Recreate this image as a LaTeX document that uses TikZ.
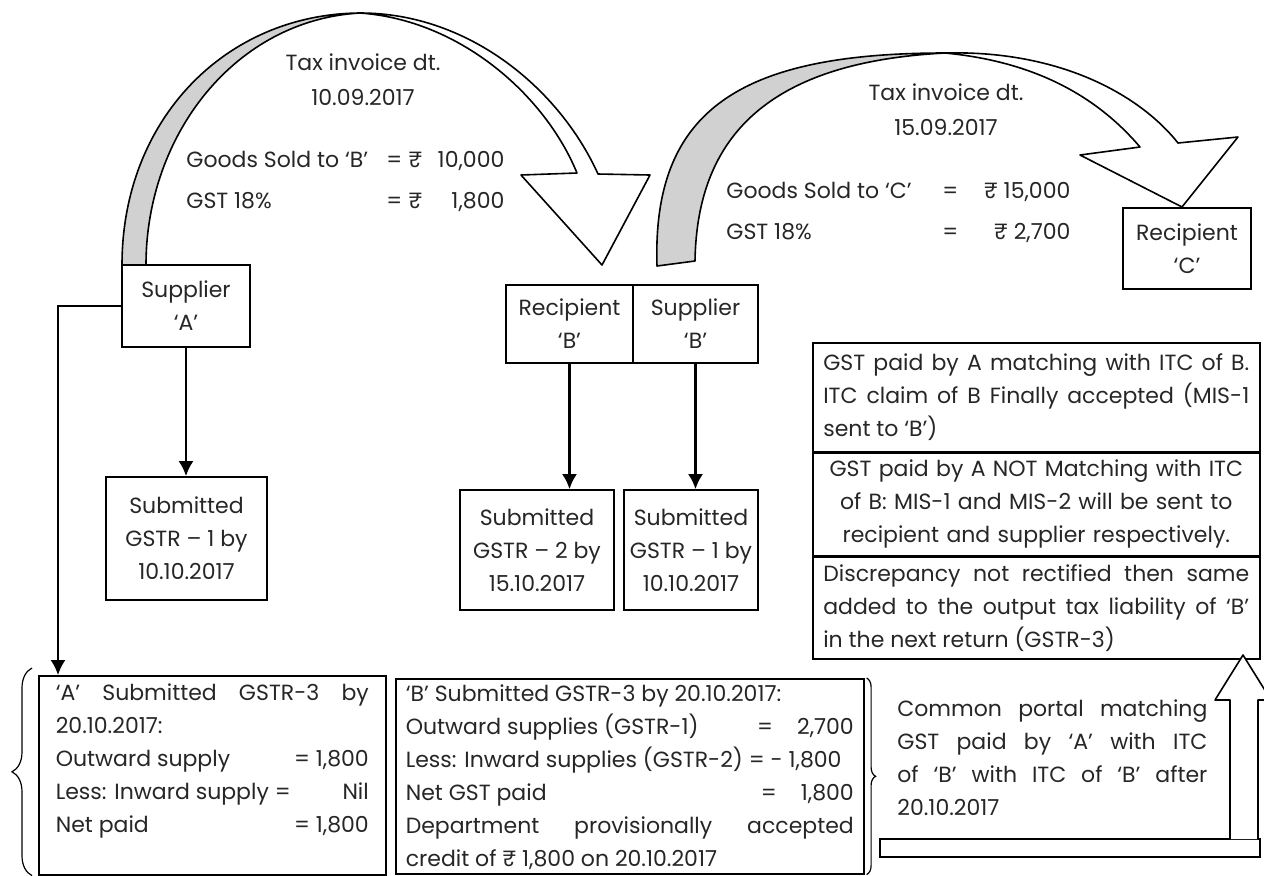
\documentclass[tikz,border=0pt]{standalone}
\usepackage{fontspec}
\setmainfont{Poppins}
\usetikzlibrary{arrows.meta,decorations.pathreplacing}

\tikzset{
  boite/.style={draw,line width=0.8pt,inner sep=0pt,align=center},
  texte/.style={inner sep=0pt,align=center},
  fleche/.style={->,line width=1.3pt},
  ruban/.style={draw=black,line width=0.8pt,line join=round},
}

\begin{document}
\begin{tikzpicture}[>={Latex[length=7.5pt,width=7.5pt]},x=0.5pt,y=-0.5pt,
  font=\fontsize{11}{16.5}\selectfont,text=black!85]

\useasboundingbox (0,0) rectangle (1264,875);

\fill[ruban,fill=black!18]
(122,265) .. controls (122,120) and (225,14) .. (360,13)
.. controls (235,20) and (146,135) .. (146,265) -- cycle;

\fill[ruban,fill=white]
(360,13) .. controls (470,13) and (560,90) .. (598,174)
-- (650,175) -- (602,265) -- (521,175) -- (577,173)
.. controls (545,95) and (460,20) .. (360,13) -- cycle;

\fill[ruban,fill=black!18]
(657,266) .. controls (652,110) and (740,53) .. (945,53)
.. controls (770,62) and (697,135) .. (695,261) -- cycle;

\fill[ruban,fill=white]
(945,53) .. controls (1060,50) and (1140,95) .. (1178,143)
-- (1238,137) -- (1182,207) -- (1080,155) -- (1140,147)
.. controls (1100,100) and (1040,62) .. (945,53) -- cycle;

\node[texte]
(factAB)
at (363,80)
{Tax invoice dt.\\[1pt]10.09.2017};

\node[texte,anchor=west,align=left]
(montantAB)
at (186,181.5)
{\makebox[100pt][l]{Goods Sold to ‘B’}\makebox[11pt][l]{=}\makebox[12pt][l]{₹}\makebox[36pt][r]{10,000}\\[4pt]
\makebox[100pt][l]{GST 18\%}\makebox[11pt][l]{=}\makebox[12pt][l]{₹}\makebox[36pt][r]{1,800}};

\node[texte]
(factBC)
at (946,110)
{Tax invoice dt.\\[1pt]15.09.2017};

\node[texte,anchor=west,align=left]
(montantBC)
at (726,212)
{\makebox[108pt][l]{Goods Sold to ‘C’}\makebox[13.5pt][l]{=}\makebox[50.5pt][r]{₹ 15,000}\\[4pt]
\makebox[108pt][l]{GST 18\%}\makebox[13.5pt][l]{=}\makebox[50.5pt][r]{₹ 2,700}};

\node[boite,minimum width=64pt,minimum height=41pt]
(supA)
at (186,306)
{Supplier\\‘A’};

\node[boite,minimum width=80.5pt,minimum height=61.5pt]
(gstrA)
at (186.5,538.5)
{Submitted\\GSTR – 1 by\\10.10.2017};

\node[boite,minimum width=63.5pt,minimum height=39pt]
(recB)
at (569.5,324)
{Recipient\\‘B’};

\node[boite,minimum width=62.5pt,minimum height=39pt]
(supB)
at (695.5,324)
{Supplier\\‘B’};

\node[boite,minimum width=77pt,minimum height=60pt]
(gstrdeuxB)
at (537,550)
{Submitted\\GSTR – 2 by\\15.10.2017};

\node[boite,minimum width=67pt,minimum height=60pt]
(gstrunB)
at (691,550)
{Submitted\\GSTR – 1 by\\10.10.2017};

\node[boite,minimum width=64pt,minimum height=40.5pt]
(recC)
at (1187,248.5)
{Recipient\\‘C’};

\node[boite,anchor=north west,inner xsep=8.5pt,inner ysep=4pt]
(gstrtroisA)
at (38,675)
{\parbox[t][91.5pt][t]{156.5pt}{‘A’ Submitted GSTR-3 by\linebreak
20.10.2017:\newline
Outward supply\hfill= 1,800\newline
Less: Inward supply =\hfill Nil\newline
Net paid\hfill= 1,800}};

\node[boite,anchor=north west,inner xsep=5pt,inner ysep=3pt]
(gstrtroisB)
at (395,678)
{\parbox[t][91.5pt][t]{224pt}{‘B’ Submitted GSTR-3 by 20.10.2017:\newline
Outward supplies (GSTR-1)\hfill=\hspace{12pt}2,700\hspace{5pt}\newline
Less: Inward supplies (GSTR-2) = - 1,800\newline
Net GST paid\hfill=\hspace{12pt}1,800\hspace{5pt}\newline
Department provisionally accepted\linebreak
credit of ₹ 1,800 on 20.10.2017}};

\node[boite,anchor=north west,minimum width=223.5pt,minimum height=54.5pt,
  text width=213pt,align=justify]
(okB)
at (812,342)
{GST paid by A matching with ITC of B.\linebreak
ITC claim of B Finally accepted (MIS-1\linebreak
sent to ‘B’)};

\node[boite,anchor=north west,minimum width=223.5pt,minimum height=51pt,
  text width=218pt]
(ecartB)
at (okB.south west)
{GST paid by A NOT Matching with ITC\\
of B: MIS-1 and MIS-2 will be sent to\\
recipient and supplier respectively.};

\node[boite,anchor=north west,minimum width=223.5pt,minimum height=51pt,
  text width=213pt,align=justify]
(reportB)
at (ecartB.south west)
{Discrepancy not rectified then same\linebreak
added to the output tax liability of ‘B’\linebreak
in the next return (GSTR-3)};

\node[texte,anchor=north west]
(portail)
at (897,699)
{\parbox{155pt}{Common portal matching\linebreak
GST paid by ‘A’ with ITC\linebreak
of ‘B’ with ITC of ‘B’ after\linebreak
20.10.2017}};

\node[boite,minimum width=190pt,minimum height=9pt]
(socle)
at (1070,848)
{};

\draw[ruban,fill=white]
(1230,839) -- (1230,700) -- (1215,700) -- (1243,655)
-- (1271,700) -- (1258,700) -- (1258,839);

\draw[fleche]
(supA.south)--(supA.south |- gstrA.north);

\draw[fleche]
(recB.south)--(recB.south |- gstrdeuxB.north);

\draw[fleche]
(supB.south)--(supB.south |- gstrunB.north);

\coordinate (coude) at (58,306);

\draw[->,line width=0.9pt]
(supA.west)--(coude)--(coude |- gstrtroisA.north);

\draw[decorate,decoration={brace,amplitude=10pt},line width=0.6pt]
([xshift=-3pt]gstrtroisA.south west)--([xshift=-3pt,yshift=3.5pt]gstrtroisA.north west);

\draw[decorate,decoration={brace,amplitude=4.5pt},line width=0.6pt]
([xshift=1pt]gstrtroisB.north east)--([xshift=1pt]gstrtroisB.south east);

\end{tikzpicture}
\end{document}
